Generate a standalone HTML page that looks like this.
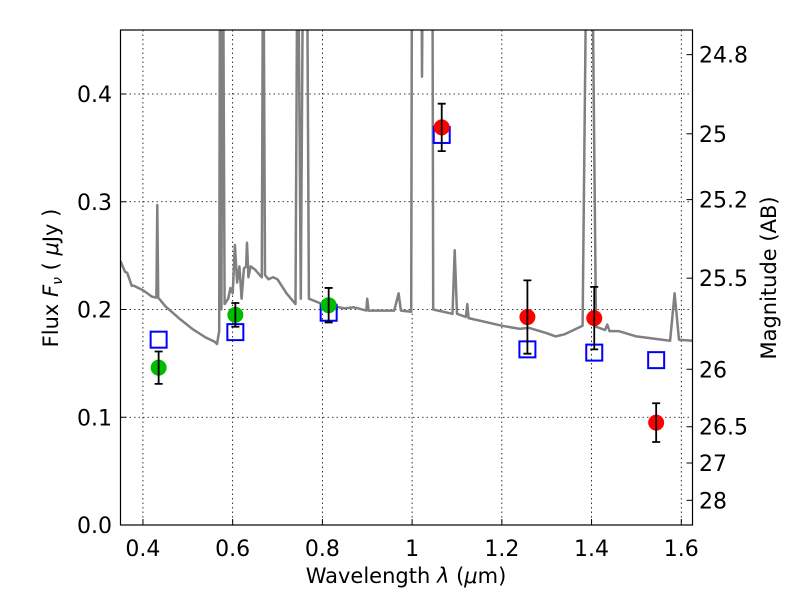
<!DOCTYPE html>
<html><head><meta charset="utf-8"><style>
body{margin:0;background:#fff;}
svg text{font-family:"DejaVu Sans","Liberation Sans",sans-serif;fill:#000;}
</style></head><body>
<svg id="chart" width="800" height="600">
<defs><clipPath id="clip"><rect x="120.5" y="30" width="572" height="495"/></clipPath></defs>
<rect x="0" y="0" width="800" height="600" fill="#fff"/>
<g id="grid"></g>
<g id="spec" clip-path="url(#clip)"></g>
<g id="marks" clip-path="url(#clip)"></g>
<rect x="120.5" y="30" width="572" height="495" fill="none" stroke="#000" stroke-width="1.2"/>
<g id="axes"></g>
<text x="406" y="583" font-size="21" text-anchor="middle">Wavelength  <tspan font-style="italic">λ</tspan> (<tspan font-style="italic">μ</tspan>m)</text>
<text transform="translate(58,278) rotate(-90)" font-size="21" text-anchor="middle">Flux  <tspan font-style="italic">F<tspan font-size="14" dy="4">ν</tspan></tspan><tspan dy="-4">  ( </tspan><tspan font-style="italic">μ</tspan>Jy )</text>
<text transform="translate(776,278) rotate(-90)" font-size="21" text-anchor="middle">Magnitude (AB)</text>
</svg>
<script>
const xTicks=[0.4,0.6,0.8,1.0,1.2,1.4,1.6];
const xTickLabels=["0.4","0.6","0.8","1","1.2","1.4","1.6"];
const yTicks=[0,0.1,0.2,0.3,0.4];
const yTickLabels=["0.0","0.1","0.2","0.3","0.4"];
const magTicks=[24.8,25,25.2,25.5,26,26.5,27,28];
const magTickLabels=["24.8","25","25.2","25.5","26","26.5","27","28"];
const obsLam=[0.435,0.606,0.814,1.066,1.257,1.406,1.544];
const obsFlux=[0.146,0.195,0.204,0.369,0.193,0.192,0.095];
const obsErr=[0.015,0.011,0.016,0.022,0.034,0.029,0.018];
const obsColor=["#00bb00","#00bb00","#00bb00","#ff0000","#ff0000","#ff0000","#ff0000"];
const modelFlux=[0.172,0.179,0.197,0.362,0.163,0.160,0.153];
const specLam=[0.35,0.355,0.36,0.365,0.37,0.375,0.38,0.39,0.40,0.42,0.430,0.432,0.434,0.45,0.48,0.51,0.54,0.56,0.565,0.570,0.572,0.575,0.578,0.582,0.59,0.595,0.60,0.605,0.61,0.615,0.62,0.625,0.63,0.632,0.635,0.64,0.65,0.66,0.665,0.668,0.672,0.68,0.69,0.70,0.72,0.74,0.745,0.752,0.758,0.765,0.77,0.80,0.85,0.87,0.898,0.90,0.903,0.96,0.97,0.975,0.998,1.0,1.02,1.022,1.025,1.045,1.047,1.09,1.095,1.10,1.12,1.123,1.126,1.20,1.24,1.26,1.30,1.32,1.34,1.38,1.39,1.40,1.41,1.43,1.435,1.44,1.46,1.50,1.575,1.585,1.595,1.625];
const specFlux=[0.245,0.24,0.235,0.234,0.228,0.222,0.222,0.22,0.218,0.212,0.211,0.297,0.211,0.203,0.192,0.182,0.174,0.170,0.168,0.180,0.60,0.20,0.60,0.205,0.21,0.22,0.215,0.26,0.225,0.24,0.21,0.238,0.24,0.262,0.23,0.24,0.237,0.232,0.230,0.60,0.232,0.228,0.23,0.228,0.215,0.205,0.60,0.21,0.60,0.60,0.21,0.205,0.201,0.202,0.199,0.21,0.199,0.199,0.215,0.199,0.198,0.60,0.60,0.416,0.60,0.60,0.200,0.196,0.255,0.196,0.193,0.205,0.192,0.185,0.182,0.183,0.178,0.175,0.177,0.185,0.6,0.6,0.184,0.181,0.186,0.180,0.180,0.175,0.171,0.215,0.172,0.171];
const X0=120.5,X1=692.5,Y0=525,Y1=30,XMIN=0.35,XMAX=1.625,YMIN=0,YMAX=0.4594;
const sx=v=>X0+(v-XMIN)/(XMAX-XMIN)*(X1-X0);
const sy=v=>Y0-(v-YMIN)/(YMAX-YMIN)*(Y0-Y1);
const magToFlux=m=>Math.pow(10,(23.9-m)/2.5);
const NS="http://www.w3.org/2000/svg";
function mk(tag,attrs,parent){const e=document.createElementNS(NS,tag);for(const k in attrs)e.setAttribute(k,attrs[k]);parent.appendChild(e);return e;}
const grid=document.getElementById('grid'),axes=document.getElementById('axes'),spec=document.getElementById('spec'),marks=document.getElementById('marks');
xTicks.forEach((t,i)=>{const x=sx(t);
 const g=mk('line',{x1:x,x2:x,y1:Y1,y2:Y0,stroke:'#000','stroke-width':0.8,'stroke-dasharray':'1.5,3'},grid);
 
 const tk=mk('line',{x1:x,x2:x,y1:Y0,y2:Y0-6,stroke:'#000'},axes);
 
 const tx=mk('text',{x:x,y:556,'font-size':22,'text-anchor':'middle'},axes);tx.textContent=xTickLabels[i];
 });
yTicks.forEach((t,i)=>{const y=sy(t);
 const g=mk('line',{x1:X0,x2:X1,y1:y,y2:y,stroke:'#000','stroke-width':0.8,'stroke-dasharray':'1.5,3'},grid);
 
 const tk=mk('line',{x1:X0,x2:X0+6,y1:y,y2:y,stroke:'#000'},axes);
 
 const tx=mk('text',{x:112,y:y+8,'font-size':22,'text-anchor':'end'},axes);tx.textContent=yTickLabels[i];
 });
magTicks.forEach((m,i)=>{const y=sy(magToFlux(m));
 const tk=mk('line',{x1:X1,x2:X1-6,y1:y,y2:y,stroke:'#000'},axes);
 
 const tx=mk('text',{x:699,y:y+8,'font-size':22},axes);tx.textContent=magTickLabels[i];
 });
const pts=specLam.map((l,i)=>sx(l).toFixed(1)+','+sy(specFlux[i]).toFixed(1)).join(' ');
const pl=mk('polyline',{points:pts,fill:'none',stroke:'#808080','stroke-width':2.5,'stroke-linejoin':'round'},spec);

obsLam.forEach((l,i)=>{const x=sx(l);
 const sq=mk('rect',{x:x-8,y:sy(modelFlux[i])-8,width:16,height:16,fill:'none',stroke:'#0000ff','stroke-width':2},marks);
 
 const c=mk('circle',{cx:x,cy:sy(obsFlux[i]),r:8,fill:obsColor[i]},marks);
 
 const yt=sy(obsFlux[i]+obsErr[i]),yb=sy(obsFlux[i]-obsErr[i]);
 const eb=mk('path',{d:`M${x},${yt}V${yb}M${x-4},${yt}H${x+4}M${x-4},${yb}H${x+4}`,stroke:'#000','stroke-width':1.8,fill:'none'},marks);
 });
</script>
</body></html>
